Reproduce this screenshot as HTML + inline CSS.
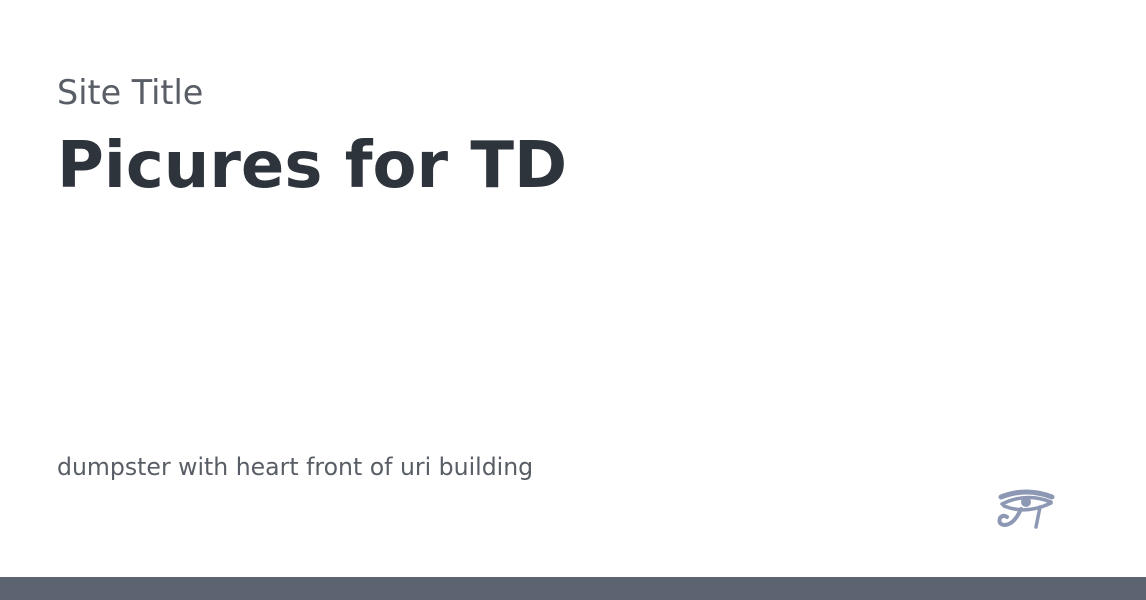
<!DOCTYPE html>
<html><head><meta charset="utf-8"><style>
html,body{margin:0;padding:0;width:1146px;height:600px;background:#fff;overflow:hidden;position:relative;font-family:"DejaVu Sans","Liberation Sans",sans-serif}
.t{position:absolute;left:57px;line-height:1;white-space:nowrap}
</style></head><body>
<div class="t" style="top:76px;font-size:33.4px;color:#595e66">Site Title</div>
<div class="t" style="top:134px;font-size:64px;font-weight:bold;color:#2e343c">Picures for TD</div>
<div class="t" style="top:456px;font-size:23.6px;color:#595e66">dumpster with heart front of uri building</div>
<svg style="position:absolute;left:996px;top:489px" width="60" height="42" viewBox="0 0 60 42">
<g fill="none" stroke="#8d98b4" stroke-linecap="round">
<path d="M5 8 Q30 -2 56 8" stroke-width="5"/>
<path d="M6 15 Q30 3 55 13" stroke-width="3.5"/>
<path d="M8 17 Q30 26 55 14" stroke-width="3.5"/>
<path d="M25 20 Q18 36 8 36 Q2 35 4 29 Q7 25 11 28" stroke-width="4"/>
<path d="M44 18 L40 38" stroke-width="3.5"/>
</g>
<circle cx="30" cy="13" r="5" fill="#8d98b4"/>
</svg>
<div style="position:absolute;left:0;top:577px;width:1146px;height:23px;background:#5b6470"></div>
</body></html>
